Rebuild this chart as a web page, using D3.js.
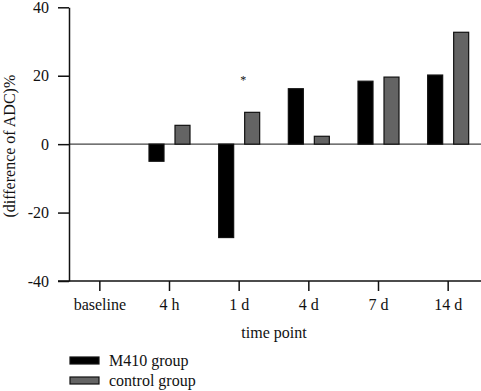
<!DOCTYPE html>
<html>
<head>
<meta charset="utf-8">
<script src="https://cdn.jsdelivr.net/npm/d3@7"></script>
<style>
  body { margin: 0; background: #fff; }
  text { font-family: "Liberation Serif", "DejaVu Serif", serif; fill: #111; }
</style>
</head>
<body>
<div id="chart"></div>
<script>
const WIDTH = 481, HEIGHT = 391;
const categories = ["baseline", "4 h", "1 d", "4 d", "7 d", "14 d"];
const groups = ["M410 group", "control group"];
const m410 = [null, -5, -27.3, 16.2, 18.4, 20.2];
const control = [null, 5.5, 9.3, 2.3, 19.6, 32.7];
const yTicks = [-40, -20, 0, 20, 40];
const colors = ["#000000", "#646464"];
const stars = [{ cat: "1 d", value: 19.2 }];

const svg = d3.select("#chart").append("svg")
    .attr("width", WIDTH)
    .attr("height", HEIGHT);

const x = d3.scaleBand().domain(categories).range([65, 483]).padding(0);
const bw = x.bandwidth();
const xSub = d3.scaleBand().domain(groups)
    .range([bw / 2 - 20.5, bw / 2 + 20.5])
    .paddingInner(0.423).paddingOuter(0);
const y = d3.scaleLinear().domain([-40, 40]).range([281, 7.3]);

// zero line
svg.append("line")
    .attr("x1", 69).attr("x2", WIDTH)
    .attr("y1", y(0)).attr("y2", y(0))
    .attr("stroke", "#444").attr("stroke-width", 1.2);

const series = [m410, control];
series.forEach((vals, gi) => {
    const data = categories.map((c, i) => ({ c, v: vals[i] })).filter(d => d.v !== null);
    svg.append("g").selectAll("rect")
        .data(data)
        .join("rect")
        .attr("x", d => x(d.c) + xSub(groups[gi]))
        .attr("width", xSub.bandwidth())
        .attr("y", d => y(Math.max(0, d.v)))
        .attr("height", d => Math.abs(y(d.v) - y(0)))
        .attr("fill", colors[gi])
        .attr("stroke", "#111")
        .attr("stroke-width", 1.2);
});

// y axis
const yAxis = svg.append("g")
    .attr("transform", "translate(69,0)")
    .call(d3.axisLeft(y).tickValues(yTicks).tickFormat(d => String(d))
        .tickSize(11).tickPadding(9).tickSizeOuter(0));
yAxis.select(".domain").attr("stroke", "#111").attr("stroke-width", 1.5);
yAxis.selectAll(".tick line").attr("stroke", "#111").attr("stroke-width", 1.5);
yAxis.selectAll(".tick text")
    .style("font-family", "Liberation Serif")
    .style("font-size", "16px").attr("fill", "#111");

// x axis
const xAxis = svg.append("g")
    .attr("transform", "translate(0,281)")
    .call(d3.axisBottom(x).tickSize(10).tickPadding(8).tickSizeOuter(0));
xAxis.select(".domain").attr("d", `M58,0H${WIDTH}`).attr("stroke", "#111").attr("stroke-width", 1.5);
xAxis.selectAll(".tick line").attr("stroke", "#111").attr("stroke-width", 1.5);
xAxis.selectAll(".tick text")
    .style("font-family", "Liberation Serif")
    .style("font-size", "16px").attr("fill", "#111");

// significance markers
svg.selectAll(".star")
    .data(stars)
    .join("text")
    .attr("class", "star")
    .attr("x", d => x(d.cat) + bw / 2 + 4)
    .attr("y", d => y(d.value) + 6)
    .attr("text-anchor", "middle")
    .style("font-size", "12px")
    .text("*");

// axis titles
svg.append("text")
    .attr("x", 274).attr("y", 338)
    .attr("text-anchor", "middle")
    .style("font-size", "16px")
    .text("time point");

svg.append("text")
    .attr("transform", `translate(15,${y(0) + 2}) rotate(-90)`)
    .attr("text-anchor", "middle")
    .style("font-size", "16px")
    .text("(difference of ADC)%");

// legend
const legend = svg.append("g");
groups.forEach((g, i) => {
    legend.append("rect")
        .attr("x", 70).attr("y", 357 + i * 20)
        .attr("width", 29).attr("height", 7)
        .attr("fill", colors[i])
        .attr("stroke", "#111").attr("stroke-width", 1.2);
    legend.append("text")
        .attr("x", 109).attr("y", 366 + i * 20)
        .style("font-size", "16px")
        .text(g);
});
</script>
</body>
</html>
